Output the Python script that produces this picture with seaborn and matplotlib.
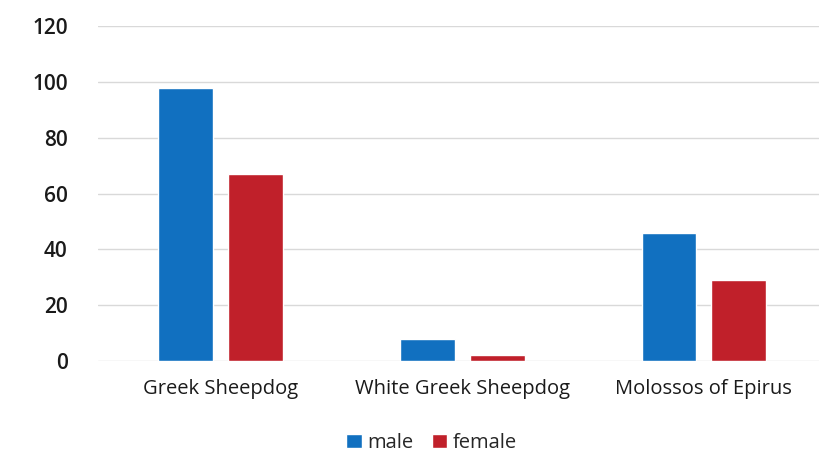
import pandas as pd
import seaborn as sns
import matplotlib.pyplot as plt

breeds = ["Greek Sheepdog", "White Greek Sheepdog", "Molossos of Epirus"]
male = [98, 8, 46]
female = [67, 2, 29]

df = pd.DataFrame({
    "breed": breeds * 2,
    "sex": ["male"] * 3 + ["female"] * 3,
    "count": male + female,
})

sns.set_style("white")
plt.rcParams["font.family"] = ["Open Sans", "DejaVu Sans"]

fig = plt.figure(figsize=(8.2, 4.55), dpi=100)
ax = fig.add_axes([0.12, 0.207, 0.88, 0.735])

sns.barplot(data=df, x="breed", y="count", hue="sex", order=breeds,
            hue_order=["male", "female"],
            palette={"male": "#1170c0", "female": "#c0202a"},
            width=0.578, gap=0.214, saturation=1, ax=ax)

ax.set_ylim(0, 120)
ax.set_yticks(range(0, 121, 20))
ax.set_xlim(-0.504, 2.48)
ax.yaxis.grid(True, color="#d9d9d9", linewidth=1)
ax.set_axisbelow(True)
for s in ax.spines.values():
    s.set_visible(False)
ax.set_xlabel("")
ax.set_ylabel("")
ax.tick_params(axis="y", length=0, pad=22, labelsize=15, labelcolor="#1a1a1a")
ax.tick_params(axis="x", length=0, pad=13, labelsize=14.5, labelcolor="#1a1a1a")
for t in ax.get_yticklabels():
    t.set_fontweight("semibold")
for t in ax.get_xticklabels():
    t.set_fontweight("medium")

leg = ax.legend(loc="upper center", bbox_to_anchor=(0.462, -0.162), ncol=2, frameon=False,
                fontsize=14.5, handlelength=0.75, handleheight=0.75, handletextpad=0.3,
                columnspacing=0.9)
for t in leg.get_texts():
    t.set_fontweight("medium")

fig.savefig("out.png", dpi=100)
